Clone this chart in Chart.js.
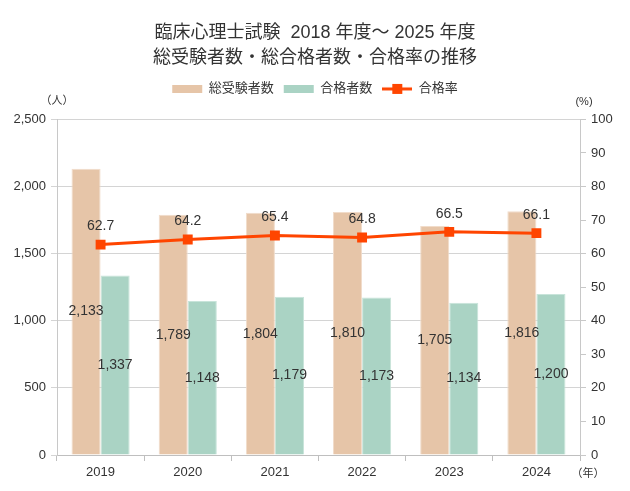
<!DOCTYPE html>
<html>
<head>
<meta charset="utf-8">
<script src="https://cdn.jsdelivr.net/npm/chart.js@4/dist/chart.umd.min.js"></script>
<style>
  html, body { margin: 0; padding: 0; background: #ffffff; }
  #wrap { width: 630px; height: 491px; position: relative; }
</style>
</head>
<body>
<div id="wrap"><canvas id="c"></canvas></div>
<script>
const years = ['2019', '2020', '2021', '2022', '2023', '2024'];
const examinees = [2133, 1789, 1804, 1810, 1705, 1816];
const passers = [1337, 1148, 1179, 1173, 1134, 1200];
const passRate = [62.7, 64.2, 65.4, 64.8, 66.5, 66.1];
const seriesNames = ['総受験者数', '合格者数', '合格率'];
const titleLines = ['臨床心理士試験  2018 年度～ 2025 年度', '総受験者数・総合格者数・合格率の推移'];
const unitLeft = '（人）';
const unitRight = '(%)';
const unitX = '（年）';

const FONT = "'Liberation Sans', 'Noto Sans CJK JP', sans-serif";
const TXT = '#333333';
const TAN = '#E6C5A8';
const GREEN = '#AAD3C4';
const RED = '#FF4500';
const GRID = '#D4D4D4';

// legend icon for the line series: a line with a square marker
const lineIcon = document.createElement('canvas');
lineIcon.width = 30; lineIcon.height = 12;
(function () {
  const g = lineIcon.getContext('2d');
  g.strokeStyle = RED; g.lineWidth = 3;
  g.beginPath(); g.moveTo(0, 6); g.lineTo(30, 6); g.stroke();
  g.fillStyle = RED; g.fillRect(10, 1, 10, 10);
})();

const fmt = n => n.toLocaleString('en-US');

const legendGap = {
  id: 'legendGap',
  beforeInit(chart) {
    if (!chart.legend) return;
    const orig = chart.legend.fit;
    chart.legend.fit = function () {
      orig.call(this);
      this.height += 14;
    };
  }
};

const labelPlugin = {
  id: 'valueLabels',
  afterDatasetsDraw(chart) {
    const ctx = chart.ctx;
    ctx.save();
    ctx.fillStyle = TXT;
    ctx.textAlign = 'center';
    ctx.textBaseline = 'middle';
    ctx.font = '14px ' + FONT;
    chart.data.datasets.forEach((ds, i) => {
      const meta = chart.getDatasetMeta(i);
      meta.data.forEach((el, j) => {
        const v = ds.data[j];
        if (ds.type === 'line') {
          ctx.fillText(v.toFixed(1), el.x, el.y - 18);
        } else {
          ctx.fillText(fmt(v), el.x, (el.y + el.base) / 2);
        }
      });
    });
    ctx.restore();
  }
};

const unitPlugin = {
  id: 'units',
  afterDraw(chart) {
    const ctx = chart.ctx;
    const a = chart.chartArea;
    ctx.save();
    ctx.fillStyle = TXT;
    ctx.textBaseline = 'middle';
    ctx.textAlign = 'center';
    ctx.font = '11px ' + FONT;
    ctx.fillText(unitLeft, a.left, a.top - 18);
    ctx.fillText(unitRight, a.right + 4, a.top - 17);
    ctx.fillText(unitX, a.right + 8, a.bottom + 19);
    ctx.restore();
  }
};

new Chart(document.getElementById('c'), {
  data: {
    labels: years,
    datasets: [
      {
        type: 'line',
        label: seriesNames[2],
        data: passRate,
        yAxisID: 'y1',
        borderColor: RED,
        backgroundColor: RED,
        borderWidth: 3,
        pointStyle: 'rect',
        pointRadius: 7,
        pointHoverRadius: 7,
        pointBackgroundColor: RED,
        pointBorderWidth: 0,
        order: 0
      },
      {
        type: 'bar',
        label: seriesNames[0],
        data: examinees,
        yAxisID: 'y',
        backgroundColor: TAN,
        borderColor: '#F1DCCA',
        borderWidth: 1,
        categoryPercentage: 0.667,
        barPercentage: 1.0,
        order: 1
      },
      {
        type: 'bar',
        label: seriesNames[1],
        data: passers,
        yAxisID: 'y',
        backgroundColor: GREEN,
        borderColor: '#C8E4DA',
        borderWidth: 1,
        categoryPercentage: 0.667,
        barPercentage: 1.0,
        order: 1
      }
    ]
  },
  options: {
    responsive: true,
    maintainAspectRatio: false,
    animation: false,
    devicePixelRatio: 1,
    layout: { padding: { left: 0, right: 0, top: 0, bottom: 0 } },
    plugins: {
      tooltip: { enabled: false },
      title: {
        display: true,
        text: titleLines,
        color: TXT,
        font: { family: FONT, size: 18, weight: 'normal', lineHeight: 1.4 },
        padding: { top: 20, bottom: 2 }
      },
      legend: {
        display: true,
        position: 'top',
        labels: {
          color: TXT,
          font: { family: FONT, size: 13 },
          usePointStyle: true,
          pointStyleWidth: 30,
          boxHeight: 8,
          padding: 10,
          sort: (a, b) => [1, 2, 0].indexOf(a.datasetIndex) - [1, 2, 0].indexOf(b.datasetIndex),
          generateLabels(chart) {
            const items = Chart.defaults.plugins.legend.labels.generateLabels(chart);
            items.forEach(it => {
              const ds = chart.data.datasets[it.datasetIndex];
              if (ds.type === 'line') {
                it.pointStyle = lineIcon;
              } else {
                it.pointStyle = 'rect';
                it.lineWidth = 0;
                it.strokeStyle = 'rgba(0,0,0,0)';
              }
            });
            return items;
          }
        }
      }
    },
    scales: {
      x: {
        type: 'category',
        offset: true,
        grid: { display: true, drawOnChartArea: false, drawTicks: true, tickLength: 6, color: '#BFBFBF', offset: true },
        border: { display: true, color: '#BFBFBF' },
        ticks: { color: TXT, font: { family: FONT, size: 13 }, padding: 4, maxRotation: 0 },
        afterFit(s) { s.height = 36; }
      },
      y: {
        type: 'linear',
        position: 'left',
        min: 0,
        max: 2500,
        ticks: { stepSize: 500, color: TXT, font: { family: FONT, size: 13 }, padding: 5, callback: v => fmt(v) },
        grid: { color: GRID, drawTicks: true, tickLength: 6 },
        border: { display: true, color: '#C8C8C8' },
        afterFit(s) { s.width = 57; }
      },
      y1: {
        type: 'linear',
        position: 'right',
        min: 0,
        max: 100,
        ticks: { stepSize: 10, color: TXT, font: { family: FONT, size: 13 }, padding: 5 },
        grid: { drawOnChartArea: false, drawTicks: true, tickLength: 6, color: '#C8C8C8' },
        border: { display: true, color: '#C8C8C8' },
        afterFit(s) { s.width = 50; }
      }
    }
  },
  plugins: [legendGap, labelPlugin, unitPlugin]
});
</script>
</body>
</html>
